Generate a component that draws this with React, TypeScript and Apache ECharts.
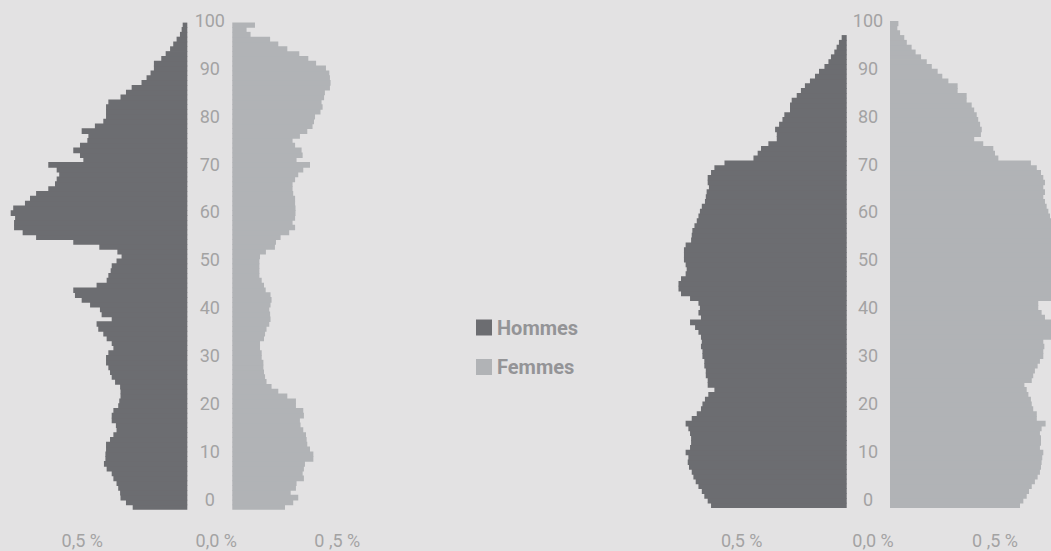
import { useEffect, useRef } from 'react';
import * as echarts from 'echarts';

// Ages 0..100 (categories)
const ages: string[] = Array.from({ length: 101 }, (_, i) => String(i));

// Share of population (%) by single year of age
const leftMen = [
  0.260, 0.292, 0.318, 0.320, 0.329, 0.337, 0.352, 0.360, 0.384, 0.397,
  0.390, 0.390, 0.387, 0.387, 0.368, 0.352, 0.337, 0.340, 0.360, 0.360,
  0.352, 0.329, 0.324, 0.318, 0.318, 0.320, 0.344, 0.360, 0.368, 0.376,
  0.387, 0.387, 0.376, 0.352, 0.360, 0.384, 0.400, 0.424, 0.432, 0.360,
  0.408, 0.416, 0.463, 0.503, 0.535, 0.543, 0.432, 0.384, 0.376, 0.365,
  0.360, 0.337, 0.313, 0.333, 0.419, 0.543, 0.720, 0.784, 0.825, 0.825,
  0.820, 0.841, 0.829, 0.773, 0.749, 0.720, 0.662, 0.630, 0.622, 0.610,
  0.622, 0.662, 0.495, 0.511, 0.543, 0.511, 0.476, 0.471, 0.503, 0.440,
  0.400, 0.387, 0.387, 0.387, 0.376, 0.318, 0.292, 0.265, 0.218, 0.194,
  0.175, 0.159, 0.159, 0.124, 0.103, 0.082, 0.067, 0.051, 0.035, 0.027,
  0.022,
];
const leftWomen = [
  0.251, 0.290, 0.314, 0.278, 0.303, 0.306, 0.341, 0.335, 0.341, 0.346,
  0.386, 0.386, 0.370, 0.357, 0.354, 0.351, 0.338, 0.325, 0.322, 0.341,
  0.338, 0.303, 0.303, 0.262, 0.219, 0.187, 0.163, 0.156, 0.151, 0.148,
  0.148, 0.140, 0.140, 0.132, 0.132, 0.151, 0.156, 0.163, 0.176, 0.182,
  0.180, 0.176, 0.182, 0.187, 0.182, 0.159, 0.151, 0.140, 0.129, 0.129,
  0.129, 0.129, 0.132, 0.160, 0.203, 0.208, 0.230, 0.271, 0.299, 0.287,
  0.299, 0.301, 0.301, 0.299, 0.299, 0.290, 0.287, 0.287, 0.299, 0.314,
  0.338, 0.370, 0.306, 0.335, 0.330, 0.299, 0.287, 0.322, 0.357, 0.382,
  0.389, 0.394, 0.420, 0.430, 0.425, 0.437, 0.441, 0.465, 0.468, 0.465,
  0.462, 0.446, 0.399, 0.362, 0.319, 0.262, 0.219, 0.180, 0.087, 0.068,
  0.108,
];
const rightMen = [
  0.646, 0.662, 0.678, 0.690, 0.706, 0.719, 0.730, 0.738, 0.751, 0.757,
  0.754, 0.767, 0.746, 0.741, 0.741, 0.746, 0.754, 0.767, 0.738, 0.714,
  0.694, 0.687, 0.675, 0.659, 0.630, 0.662, 0.662, 0.671, 0.671, 0.678,
  0.678, 0.687, 0.687, 0.694, 0.690, 0.694, 0.706, 0.722, 0.746, 0.694,
  0.706, 0.699, 0.706, 0.746, 0.789, 0.801, 0.801, 0.789, 0.767, 0.762,
  0.767, 0.775, 0.775, 0.775, 0.767, 0.741, 0.738, 0.735, 0.725, 0.714,
  0.706, 0.699, 0.690, 0.675, 0.671, 0.667, 0.656, 0.662, 0.662, 0.646,
  0.630, 0.582, 0.444, 0.424, 0.408, 0.373, 0.333, 0.333, 0.341, 0.322,
  0.306, 0.297, 0.270, 0.270, 0.262, 0.238, 0.218, 0.199, 0.175, 0.151,
  0.132, 0.106, 0.087, 0.075, 0.059, 0.048, 0.037, 0.024, 0, 0,
  0,
];
const rightWomen = [
  0.619, 0.635, 0.651, 0.662, 0.675, 0.690, 0.703, 0.714, 0.719, 0.722,
  0.725, 0.730, 0.714, 0.719, 0.719, 0.714, 0.722, 0.741, 0.699, 0.699,
  0.682, 0.675, 0.671, 0.659, 0.651, 0.640, 0.675, 0.682, 0.690, 0.703,
  0.714, 0.730, 0.730, 0.735, 0.730, 0.780, 0.780, 0.780, 0.780, 0.738,
  0.722, 0.706, 0.706, 0.780, 0.780, 0.780, 0.780, 0.780, 0.780, 0.780,
  0.780, 0.780, 0.780, 0.780, 0.780, 0.780, 0.780, 0.780, 0.780, 0.780,
  0.762, 0.754, 0.746, 0.738, 0.730, 0.738, 0.730, 0.738, 0.730, 0.719,
  0.699, 0.671, 0.516, 0.500, 0.492, 0.444, 0.401, 0.433, 0.437, 0.429,
  0.420, 0.413, 0.401, 0.389, 0.365, 0.365, 0.322, 0.322, 0.278, 0.249,
  0.227, 0.199, 0.175, 0.148, 0.122, 0.103, 0.080, 0.068, 0.048, 0.035,
  0.040,
];

const seriesNames = ['Hommes', 'Femmes'];
const menTicks = [0.5];
const womenTicks = [0, 0.5];
const menTickLabels: Record<string, string> = { '0.5': '0,5 %' };
const womenTickLabels: Record<string, string> = { '0': '0,0 %', '0.5': '0 ,5 %' };

const BG = '#e3e2e3';
const MEN = '#6c6d71';
const WOMEN = '#b1b3b6';
const LABEL = '#a3a3a3';
const LEGEND_TEXT = '#949497';
const FONT = 'Roboto, "DejaVu Sans", sans-serif';
const PX_PER_PCT = 210;

export default function App() {
  const ref = useRef<HTMLDivElement>(null);
  useEffect(() => {
    document.body.style.margin = '0';
    document.body.style.background = BG;
    if (!ref.current) return;
    const chart = echarts.init(ref.current, undefined, { renderer: 'svg' });

    const L = { axis: 187.3, wLeft: 232.3, top: 22.6, h: 487.1 };
    const R = { axis: 846.7, wLeft: 890, top: 21.0, h: 487.0 };
    const labTop = 20.4;
    const labH = 478.9;

    const gridBase = { outerBoundsMode: 'none', containLabel: false } as any;
    const grids = [
      { ...gridBase, left: 0, top: L.top, width: L.axis, height: L.h },
      { ...gridBase, left: L.wLeft, top: L.top, width: 130, height: L.h },
      { ...gridBase, left: L.wLeft, top: labTop, width: 1, height: labH },
      { ...gridBase, left: R.axis - 210, top: R.top, width: 210, height: R.h },
      { ...gridBase, left: R.wLeft, top: R.top, width: 1051 - R.wLeft, height: R.h },
      { ...gridBase, left: R.wLeft, top: labTop, width: 1, height: labH },
    ];

    const xLabelStyle = { color: LABEL, fontSize: 18, fontFamily: FONT };
    const menX = (gridIndex: number, width: number, margin: number) => ({
      type: 'value', gridIndex, inverse: true, min: 0, max: width / PX_PER_PCT, interval: 0.5,
      axisLine: { show: false }, axisTick: { show: false }, splitLine: { show: false },
      axisLabel: {
        ...xLabelStyle, margin,
        customValues: menTicks,
        formatter: (v: number) => menTickLabels[String(v)] ?? '',
      },
    });
    const womenX = (gridIndex: number, width: number, margin: number, shift: number) => ({
      type: 'value', gridIndex, min: 0, max: width / PX_PER_PCT, interval: 0.5,
      axisLine: { show: false }, axisTick: { show: false }, splitLine: { show: false },
      axisLabel: {
        ...xLabelStyle, margin,
        customValues: womenTicks,
        formatter: (v: number) => (v === 0 ? '{z|' + womenTickLabels['0'] + '}' : womenTickLabels[String(v)] ?? ''),
        rich: { z: { ...xLabelStyle, padding: [0, shift, 0, 0] } },
      },
    });
    const hiddenX = (gridIndex: number) => ({ type: 'value', gridIndex, show: false, min: 0, max: 1 });

    const catY = (gridIndex: number, position: string) => ({
      type: 'category', gridIndex, data: ages, position,
      axisLine: { show: false }, axisTick: { show: false }, axisLabel: { show: false }, splitLine: { show: false },
    });
    const ageY = (gridIndex: number, margin: number) => ({
      type: 'value', gridIndex, min: 0, max: 100, interval: 10, position: 'left',
      axisLine: { show: false }, axisTick: { show: false }, splitLine: { show: false },
      axisLabel: { color: LABEL, fontSize: 18, fontFamily: FONT, margin, align: 'center' },
    });

    const bar = (name: string, data: number[], idx: number, color: string) => ({
      type: 'bar', name, data, xAxisIndex: idx, yAxisIndex: idx,
      barWidth: 5.6,
      itemStyle: { color },
      emphasis: { disabled: true },
    });

    chart.setOption({
      animation: false,
      backgroundColor: BG,
      grid: grids,
      legend: {
        data: seriesNames,
        orient: 'vertical', left: 476, top: 317.5, padding: 0,
        itemWidth: 16, itemHeight: 16, itemGap: 19.5, icon: 'rect',
        selectedMode: false,
        itemStyle: { borderWidth: 0 },
        textStyle: { color: LEGEND_TEXT, fontSize: 20, fontWeight: 'bold', fontFamily: FONT, lineHeight: 20 },
      },
      xAxis: [
        menX(0, L.axis, 21.3),
        womenX(1, 130, 21.3, 32),
        hiddenX(2),
        menX(3, 210, 23),
        womenX(4, 1051 - R.wLeft, 23, 34),
        hiddenX(5),
      ],
      yAxis: [
        catY(0, 'right'),
        catY(1, 'left'),
        ageY(2, 22.5),
        catY(3, 'right'),
        catY(4, 'left'),
        ageY(5, 22),
      ],
      series: [
        bar(seriesNames[0], leftMen, 0, MEN),
        bar(seriesNames[1], leftWomen, 1, WOMEN),
        bar(seriesNames[0], rightMen, 3, MEN),
        bar(seriesNames[1], rightWomen, 4, WOMEN),
      ],
    } as any);
    return () => chart.dispose();
  }, []);
  return <div ref={ref} style={{ width: 1051, height: 551, background: BG }} />;
}
